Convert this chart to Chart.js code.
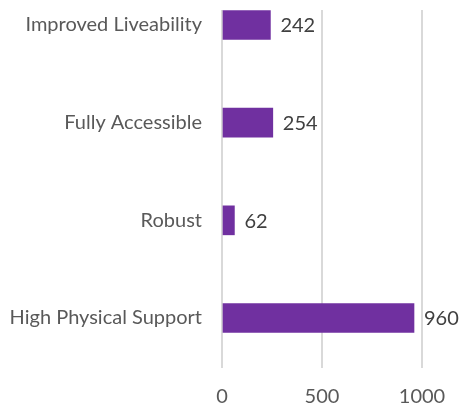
<!DOCTYPE html>
<html><head><meta charset="utf-8">
<script src="https://cdn.jsdelivr.net/npm/chart.js@4"></script>
<style>html,body{margin:0;padding:0;background:#fff;overflow:hidden}#wrap{width:464px;height:410px;position:relative}</style>
</head><body><div id="wrap"><canvas id="c"></canvas></div>
<script>
const categories = ['Improved Liveability', 'Fully Accessible', 'Robust', 'High Physical Support'];
const values = [242, 254, 62, 960];
const xTicks = [0, 500, 1000];

const FONT = 'Lato';
const labelPlugin = {
  id: 'vals',
  afterDatasetsDraw(chart) {
    const ctx = chart.ctx;
    const meta = chart.getDatasetMeta(0);
    ctx.save();
    ctx.font = '20px ' + FONT;
    ctx.fillStyle = '#404040';
    ctx.textAlign = 'left';
    ctx.textBaseline = 'middle';
    meta.data.forEach((el, i) => {
      ctx.fillText(String(values[i]), el.x + 10, el.y + 1);
    });
    ctx.restore();
  }
};

new Chart(document.getElementById('c'), {
  type: 'bar',
  data: {
    datasets: [{
      data: values.map((v, i) => ({ x: v, y: i })),
      backgroundColor: '#7030A0',
      borderWidth: 0,
      barThickness: 29
    }]
  },
  options: {
    indexAxis: 'y',
    responsive: true,
    maintainAspectRatio: false,
    animation: false,
    layout: { padding: { top: 10, right: 42, left: 0, bottom: 0 } },
    plugins: { legend: { display: false }, tooltip: { enabled: false } },
    scales: {
      x: {
        type: 'linear',
        min: xTicks[0], max: xTicks[xTicks.length - 1],
        afterBuildTicks: s => { s.ticks = xTicks.map(v => ({ value: v })); },
        afterFit: s => { s.height = 42; s.paddingLeft = 0; s.paddingRight = 0; },
        grid: { color: '#d9d9d9', lineWidth: 2, drawTicks: false },
        border: { display: false },
        ticks: { padding: 17, color: '#595959', font: { family: FONT, size: 20 }, callback: v => String(v) }
      },
      y: {
        type: 'linear',
        reverse: true,
        offset: false,
        min: -0.1536, max: 3.512,
        afterBuildTicks: s => { s.ticks = categories.map((c, i) => ({ value: i })); },
        afterFit: s => { s.width = 222; s.paddingTop = 0; s.paddingBottom = 0; },
        grid: { display: false, drawTicks: false, offset: false },
        border: { display: false },
        ticks: {
          padding: 20, color: '#595959', font: { family: FONT, size: 20 },
          callback: v => categories[v]
        }
      }
    }
  },
  plugins: [labelPlugin]
});
</script></body></html>
